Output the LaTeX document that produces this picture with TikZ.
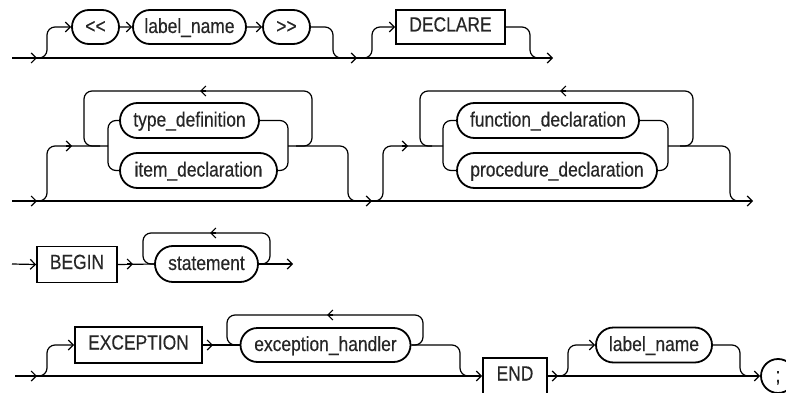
\documentclass[tikz,border=0pt]{standalone}
\usepackage{fontspec}
\setmainfont{Liberation Sans}[FakeStretch=0.85,FakeBold=0.4]
\usetikzlibrary{arrows.meta,shapes.misc}
\newcommand\lblfont{\fontsize{20.5}{23}\selectfont}
\newcommand\mR[1]{\draw[conn,arr] ([xshift=-6pt]#1) -- (#1);}
\newcommand\mL[1]{\draw[conn,arr] ([xshift=6pt]#1) -- (#1);}
\begin{document}
\begin{tikzpicture}[x=1pt,y=-1pt,
  conn/.style={line width=1.2pt, rounded corners=8pt},
  arr/.style={-{Straight Barb[length=5pt,width=10pt]}},
  term/.style={draw, line width=1.8pt, rounded rectangle, minimum height=34pt,
    inner sep=0pt, text height=15pt, text depth=3pt, font=\lblfont, text=black!85},
  kw/.style={draw, line width=1.8pt, rectangle, minimum height=36pt,
    inner sep=0pt, text height=14pt, text depth=5pt, font=\lblfont, text=black!85}]
\useasboundingbox (0,0) rectangle (786,393);
\clip (0,0) rectangle (786,393);
% ---------- row 1 ----------
\node[term, minimum width=47pt] (lt) at (95.5,27) {<\kern0pt<};
\node[term, minimum width=113pt] (ln1) at (189.5,27) {label\_name};
\node[term, minimum width=47pt] (gt) at (286.5,27) {>\kern0pt>};
\node[kw, minimum width=109pt, minimum height=34pt] (dec) at (450.5,27) {DECLARE};
\coordinate (s1) at (12,58);
\coordinate (e1) at (553,58);
\draw[conn,arr] (s1) -- (e1);
\mR{37,58}
\mR{357,58}
\draw[conn,arr] (37,58) -- (47,58) -- (47,27) -- (lt.west);
\draw[conn,arr] (lt) -- (ln1);
\draw[conn,arr] (ln1) -- (gt);
\draw[conn] (gt.east) -- (333,27) -- (333,58) -- (345,58);
\draw[conn,arr] (361,58) -- (372,58) -- (372,27) -- (dec.west);
\draw[conn] (dec.east) -- (530,27) -- (530,58) -- (542,58);
% ---------- row 2 ----------
\node[term, minimum width=139pt, minimum height=35pt] (td) at (189.5,120.5) {type\_definition};
\node[term, minimum width=157pt, minimum height=35pt] (id) at (198.5,170.5) {item\_declaration};
\node[term, minimum width=182pt, minimum height=35pt] (fd) at (548,120.5) {function\_declaration};
\node[term, minimum width=200pt, minimum height=35pt] (pd) at (557,170.5) {procedure\_declaration};
\coordinate (s2) at (12,201);
\coordinate (e2) at (753,201);
\draw[conn,arr] (s2) -- (e2);
\mR{37,201}
\mR{372,201}
\draw[conn] (37,201) -- (47,201) -- (47,146) -- (108,146);
\mR{72,146}
\draw[conn] (296,146) -- (312,146) -- (312,91) -- (84,91) -- (84,146) -- (100,146);
\mL{200,91}
\draw[conn] (td.west) -- (108,120.5) -- (108,170.5) -- (id.west);
\draw[conn] (td.east) -- (288,120.5) -- (288,170.5) -- (id.east);
\draw[conn] (288,146) -- (348,146) -- (348,201) -- (360,201);
\draw[conn] (374,201) -- (383,201) -- (383,146) -- (443,146);
\mR{408,146}
\draw[conn] (680,146) -- (693,146) -- (693,91) -- (420,91) -- (420,146) -- (432,146);
\mL{560,91}
\draw[conn] (fd.west) -- (443,120.5) -- (443,170.5) -- (pd.west);
\draw[conn] (fd.east) -- (668,120.5) -- (668,170.5) -- (pd.east);
\draw[conn] (668,146) -- (730,146) -- (730,201) -- (742,201);
% ---------- row 3 ----------
\node[kw, minimum width=80pt] (bg) at (77,264.5) {BEGIN};
\node[term, minimum width=103pt, minimum height=36pt] (st) at (206.5,264) {statement};
\coordinate (s3) at (12,264);
\coordinate (e3) at (293,264);
\draw[conn,arr] (s3) -- (bg.west);
\draw[conn] (bg.east) -- (st.west);
\mR{133,264}
\draw[conn] (st.east) -- (270,264) -- (270,233) -- (143,233) -- (143,264) -- (st.west);
\mL{210,233}
\draw[conn,arr] (st.east) -- (e3);
% ---------- row 4 ----------
\node[kw, minimum width=127pt] (ex) at (138.5,345) {EXCEPTION};
\node[term, minimum width=170pt] (eh) at (325.5,345) {exception\_handler};
\node[kw, minimum width=64pt] (en) at (515,376) {END};
\node[term, minimum width=116pt, minimum height=35pt] (ln2) at (654,345) {label\_name};
\node[term, minimum width=30pt] (sc) at (778,376) {;};
\coordinate (s4) at (15,376);
\draw[conn,arr] (s4) -- (en.west);
\mR{37,376}
\draw[conn,arr] (37,376) -- (47,376) -- (47,345) -- (ex.west);
\draw[conn] (ex.east) -- (eh.west);
\mR{213,345}
\draw[conn] (eh.east) -- (423,345) -- (423,315) -- (227,315) -- (227,345) -- (eh.west);
\mL{327,315}
\draw[conn] (eh.east) -- (460,345) -- (460,376) -- (472,376);
\draw[conn,arr] (en) -- (sc);
\mR{558,376}
\draw[conn,arr] (558,376) -- (568,376) -- (568,345) -- (ln2.west);
\draw[conn] (ln2.east) -- (740,345) -- (740,376) -- (752,376);
\end{tikzpicture}
\end{document}
